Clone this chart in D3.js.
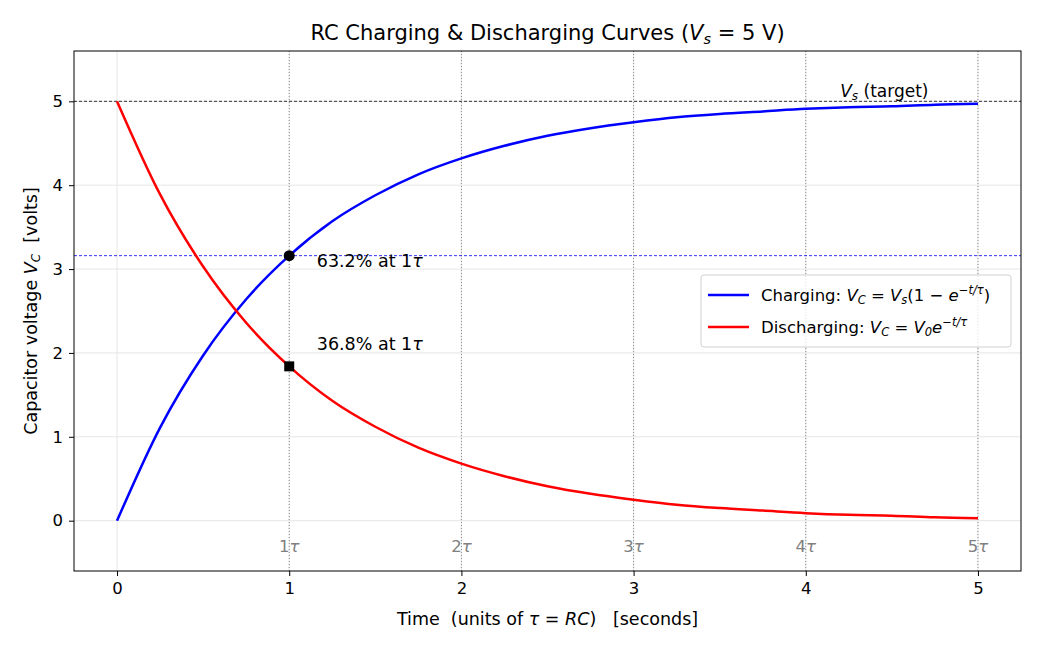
<!DOCTYPE html>
<meta charset="utf-8">
<script src="https://d3js.org/d3.v7.min.js"></script>
<style>
body { margin: 0; background: #fff; }
text { font-family: "DejaVu Sans", sans-serif; white-space: pre; }
.tick line { stroke: #000; }
.domain { display: none; }
</style>
<body>
<div id="canvas"></div>
<script>
// valores (t em unidades de tau)
var tempos = [0, 0.25, 0.5, 0.75, 1, 1.25, 1.5, 1.75, 2, 2.25, 2.5, 2.75, 3, 3.25, 3.5, 3.75, 4, 4.25, 4.5, 4.75, 5];
var carga = [0, 1.11, 1.97, 2.64, 3.16, 3.57, 3.88, 4.13, 4.32, 4.47, 4.59, 4.68, 4.75, 4.81, 4.85, 4.88, 4.91, 4.93, 4.94, 4.96, 4.97];
var descarga = [5, 3.89, 3.03, 2.36, 1.84, 1.43, 1.12, 0.87, 0.68, 0.53, 0.41, 0.32, 0.25, 0.19, 0.15, 0.12, 0.09, 0.07, 0.06, 0.04, 0.03];
var xTicks = [0, 1, 2, 3, 4, 5];
var yTicks = [0, 1, 2, 3, 4, 5];
var tauMarks = [1, 2, 3, 4, 5];
var vs = 5;
var v632 = 3.16;
var v368 = 1.84;

var width = 1040, height = 650;
var margin = {top: 51, right: 19, bottom: 79, left: 74};
var w = width - margin.left - margin.right;
var h = height - margin.top - margin.bottom;

var svg = d3.select('#canvas').append('svg')
    .attr('width', width).attr('height', height);

var g = svg.append('g')
    .attr('transform', 'translate(' + margin.left + ',' + margin.top + ')');

var x = d3.scaleLinear().domain([-0.25, 5.25]).range([0, w]);
var y = d3.scaleLinear().domain([-0.6, 5.6]).range([h, 0]);

// grade
g.selectAll('.gx').data(xTicks).enter().append('line')
    .attr('x1', function(d){ return x(d); }).attr('x2', function(d){ return x(d); })
    .attr('y1', 0).attr('y2', h)
    .attr('stroke', '#e6e6e6').attr('stroke-width', 1);
g.selectAll('.gy').data(yTicks).enter().append('line')
    .attr('y1', function(d){ return y(d); }).attr('y2', function(d){ return y(d); })
    .attr('x1', 0).attr('x2', w)
    .attr('stroke', '#e6e6e6').attr('stroke-width', 1);

// linhas verticais em n*tau
g.selectAll('.tau').data(tauMarks).enter().append('line')
    .attr('x1', function(d){ return x(d); }).attr('x2', function(d){ return x(d); })
    .attr('y1', 0).attr('y2', h)
    .attr('stroke', '#808080').attr('stroke-width', 0.9)
    .attr('stroke-dasharray', '1,2');

var tauLbl = g.selectAll('.taulbl').data(tauMarks).enter().append('text')
    .attr('x', function(d){ return x(d); })
    .attr('y', y(-0.3) + 6)
    .attr('text-anchor', 'middle')
    .attr('fill', '#808080')
    .style('font-size', '16.5px');
tauLbl.append('tspan').text(function(d){ return d; });
tauLbl.append('tspan').attr('font-style', 'italic').text('τ');

// linhas horizontais de referência
g.append('line')
    .attr('x1', 0).attr('x2', w).attr('y1', y(vs)).attr('y2', y(vs))
    .attr('stroke', '#000').attr('stroke-width', 0.8).attr('stroke-dasharray', '3,2');
g.append('line')
    .attr('x1', 0).attr('x2', w).attr('y1', y(v632)).attr('y2', y(v632))
    .attr('stroke', '#0000ff').attr('stroke-width', 0.8).attr('stroke-dasharray', '3,2');

// curvas
var line = d3.line()
    .x(function(d){ return x(d[0]); })
    .y(function(d){ return y(d[1]); })
    .curve(d3.curveMonotoneX);

g.append('path')
    .datum(tempos.map(function(t, i){ return [t, carga[i]]; }))
    .attr('d', line).attr('fill', 'none')
    .attr('stroke', '#0000ff').attr('stroke-width', 2.5);
g.append('path')
    .datum(tempos.map(function(t, i){ return [t, descarga[i]]; }))
    .attr('d', line).attr('fill', 'none')
    .attr('stroke', '#ff0000').attr('stroke-width', 2.5);

// marcadores
g.append('circle')
    .attr('cx', x(1)).attr('cy', y(v632)).attr('r', 5.5).attr('fill', '#000');
g.append('rect')
    .attr('x', x(1) - 5).attr('y', y(v368) - 5).attr('width', 10).attr('height', 10)
    .attr('fill', '#000');

// anotações
function anot(txt, tx, ty) {
    var t = g.append('text').attr('x', x(tx)).attr('y', y(ty))
        .style('font-size', '17.5px').attr('fill', '#000');
    t.append('tspan').text(txt);
    t.append('tspan').attr('font-style', 'italic').text('τ');
}
anot('63.2% at 1', 1.16, 3.03);
anot('36.8% at 1', 1.16, 2.03);

var tgt = g.append('text').attr('x', x(4.2)).attr('y', y(5.05))
    .style('font-size', '17px');
tgt.append('tspan').attr('font-style', 'italic').text('V');
tgt.append('tspan').attr('font-style', 'italic').attr('dy', 3).style('font-size', '12px').text('s');
tgt.append('tspan').attr('dy', -3).text(' (target)');

// eixos
g.append('g')
    .attr('transform', 'translate(0,' + h + ')')
    .call(d3.axisBottom(x).tickValues(xTicks).tickFormat(d3.format('d')).tickSize(5).tickPadding(6));
g.append('g')
    .call(d3.axisLeft(y).tickValues(yTicks).tickFormat(d3.format('d')).tickSize(5).tickPadding(6));
g.selectAll('.tick text')
    .attr('font-family', '"DejaVu Sans", sans-serif')
    .attr('fill', '#000')
    .style('font-size', '16.5px');

g.append('rect')
    .attr('width', w).attr('height', h)
    .attr('fill', 'none').attr('stroke', '#000').attr('stroke-width', 1);

// titulo
var tit = svg.append('text').attr('x', margin.left + w / 2).attr('y', 40)
    .attr('text-anchor', 'middle').style('font-size', '21px');
tit.append('tspan').text('RC Charging & Discharging Curves (');
tit.append('tspan').attr('font-style', 'italic').text('V');
tit.append('tspan').attr('font-style', 'italic').attr('dy', 4).style('font-size', '14.5px').text('s');
tit.append('tspan').attr('dy', -4).text(' = 5 V)');

// rotulo x
var xl = svg.append('text').attr('x', margin.left + w / 2).attr('y', 625)
    .attr('text-anchor', 'middle').style('font-size', '17.5px');
xl.append('tspan').text('Time  (units of ');
xl.append('tspan').attr('font-style', 'italic').text('τ');
xl.append('tspan').text(' = ');
xl.append('tspan').attr('font-style', 'italic').text('RC');
xl.append('tspan').text(')   [seconds]');

// rotulo y
var yl = svg.append('text')
    .attr('transform', 'translate(37,' + (margin.top + h / 2) + ') rotate(-90)')
    .attr('text-anchor', 'middle').style('font-size', '17.5px');
yl.append('tspan').text('Capacitor voltage ');
yl.append('tspan').attr('font-style', 'italic').text('V');
yl.append('tspan').attr('font-style', 'italic').attr('dy', 3).style('font-size', '12px').text('C');
yl.append('tspan').attr('dy', -3).text('  [volts]');

// legenda
var leg = g.append('g').attr('transform', 'translate(' + (701 - margin.left) + ',' + (275 - margin.top) + ')');
leg.append('rect')
    .attr('width', 310).attr('height', 72).attr('rx', 3)
    .attr('fill', '#fff').attr('fill-opacity', 0.8)
    .attr('stroke', '#d0d0d0');
var itens = [
    {cor: '#0000ff', parts: [['Charging: ', 0], ['V', 1], ['C', 2], [' = ', 0], ['V', 1], ['s', 2], ['(1 − ', 0], ['e', 1], ['−t/τ', 3], [')', 4]]},
    {cor: '#ff0000', parts: [['Discharging: ', 0], ['V', 1], ['C', 2], [' = ', 0], ['V', 1], ['0', 2], ['e', 1], ['−t/τ', 3]]}
];
itens.forEach(function(it, i) {
    var yy = 20 + i * 32;
    leg.append('line').attr('x1', 7).attr('x2', 48).attr('y1', yy).attr('y2', yy)
        .attr('stroke', it.cor).attr('stroke-width', 2.5);
    var t = leg.append('text').attr('x', 60).attr('y', yy + 6).style('font-size', '16.5px');
    var base = 0;
    it.parts.forEach(function(p) {
        var s = t.append('tspan').text(p[0]);
        var alvo = 0;
        if (p[1] === 1) s.attr('font-style', 'italic');
        if (p[1] === 2) { s.attr('font-style', 'italic').style('font-size', '11.5px'); alvo = 3; }
        if (p[1] === 3) { s.attr('font-style', 'italic').style('font-size', '11.5px'); alvo = -7; }
        s.attr('dy', alvo - base);
        base = alvo;
    });
});
</script>
</body>
